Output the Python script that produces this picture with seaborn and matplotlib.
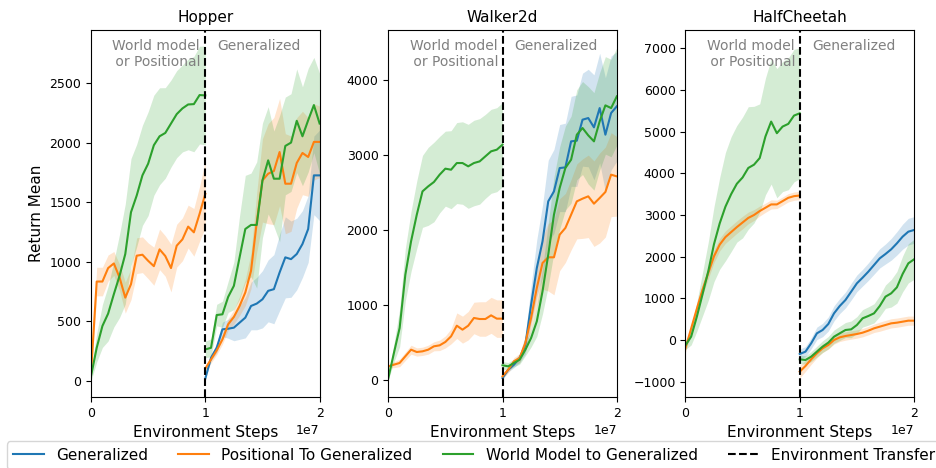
import numpy as np
import pandas as pd
import matplotlib
matplotlib.use("Agg")
import matplotlib.pyplot as plt
from matplotlib.lines import Line2D
import seaborn as sns

# Environment steps (millions) before and after the environment transfer
STEPS_PRE = [0.0, 0.5, 1.0, 1.5, 2.0, 2.5, 3.0, 3.5, 4.0, 4.5, 5.0,
             5.5, 6.0, 6.5, 7.0, 7.5, 8.0, 8.5, 9.0, 9.5, 10.0]
STEPS_POST = [10.0, 10.5, 11.0, 11.5, 12.0, 12.5, 13.0, 13.5, 14.0, 14.5, 15.0,
              15.5, 16.0, 16.5, 17.0, 17.5, 18.0, 18.5, 19.0, 19.5, 20.0]

ENVS = ["Hopper", "Walker2d", "HalfCheetah"]
RUNS = ["Generalized", "Positional To Generalized", "World Model to Generalized"]
COLORS = ["#1f77b4", "#ff7f0e", "#2ca02c"]
TRANSFER_STEP = 1e7

# ---------------- Hopper ----------------
HOP_POS_PRE = [60, 834, 834, 947, 986, 868, 699, 812, 1051, 1059, 1008,
               963, 1104, 1048, 947, 1135, 1188, 1295, 1247, 1402, 1570]
HOP_POS_PRE_SD = [40, 120, 120, 110, 100, 110, 130, 130, 150, 150, 150,
                  160, 170, 170, 200, 180, 180, 180, 200, 230, 280]
HOP_WM_PRE = [40, 278, 461, 565, 728, 882, 1065, 1416, 1556, 1725, 1823,
              1978, 2053, 2081, 2160, 2239, 2287, 2320, 2323, 2399, 2396]
HOP_WM_PRE_SD = [40, 120, 180, 230, 275, 350, 420, 450, 430, 420, 435,
                 420, 407, 380, 365, 365, 365, 380, 400, 410, 415]
HOP_GEN_POST = [20, 194, 278, 433, 438, 447, 489, 531, 629, 649, 685,
                756, 770, 910, 1037, 1022, 1065, 1149, 1275, 1725, 1725]
HOP_GEN_POST_SD = [10, 25, 40, 60, 80, 110, 140, 170, 200, 220, 240,
                   260, 290, 320, 340, 320, 300, 280, 280, 330, 380]
HOP_POS_POST = [104, 180, 256, 348, 475, 537, 629, 742, 924, 1331, 1683,
                1739, 1761, 1921, 1655, 1655, 1829, 1913, 1879, 2006, 2006]
HOP_POS_POST_SD = [25, 30, 35, 40, 50, 60, 80, 110, 150, 250, 350,
                   420, 450, 450, 420, 400, 380, 350, 330, 320, 300]
HOP_WM_POST = [264, 278, 553, 559, 705, 798, 1037, 1275, 1309, 1309, 1683,
               1851, 1697, 1697, 1972, 2000, 2183, 2053, 2188, 2315, 2160]
HOP_WM_POST_SD = [70, 75, 90, 110, 130, 200, 350, 450, 435, 530, 480,
                  450, 400, 530, 410, 410, 435, 415, 435, 400, 420]

# ---------------- Walker2d ----------------
WAL_POS_PRE = [182, 204, 227, 316, 404, 373, 382, 404, 449, 462, 507,
               582, 724, 671, 724, 827, 813, 813, 862, 818, 818]
WAL_POS_PRE_SD = [20, 40, 50, 55, 60, 55, 55, 60, 60, 70, 80,
                  100, 170, 180, 190, 210, 230, 230, 240, 250, 250]
WAL_WM_PRE = [18, 360, 693, 1404, 1849, 2204, 2515, 2582, 2640, 2738, 2818,
              2804, 2893, 2893, 2849, 2893, 2915, 2982, 3049, 3071, 3138]
WAL_WM_PRE_SD = [20, 120, 250, 350, 400, 450, 480, 520, 530, 510, 500,
                 520, 540, 550, 560, 570, 570, 560, 560, 560, 560]
WAL_GEN_POST = [27, 138, 204, 293, 471, 1004, 1493, 1849, 2382, 2515, 2826,
                2835, 3182, 3191, 3471, 3493, 3369, 3626, 3271, 3560, 3649]
WAL_GEN_POST_SD = [20, 30, 40, 60, 120, 250, 380, 480, 550, 560, 580,
                   590, 600, 610, 620, 650, 700, 730, 760, 760, 730]
WAL_POS_POST = [49, 138, 249, 293, 493, 827, 1227, 1560, 1636, 1636, 1938,
                2027, 2204, 2382, 2418, 2449, 2351, 2427, 2507, 2738, 2715]
WAL_POS_POST_SD = [30, 40, 50, 60, 80, 150, 250, 350, 450, 500, 480,
                   460, 470, 500, 530, 550, 570, 600, 600, 560, 530]
WAL_WM_POST = [196, 182, 227, 271, 404, 560, 782, 1182, 1671, 2204, 2560,
               2827, 2938, 3271, 3360, 3262, 3182, 3449, 3662, 3626, 3782]
WAL_WM_POST_SD = [50, 50, 50, 60, 80, 120, 200, 300, 420, 500, 550,
                  560, 580, 600, 620, 650, 650, 650, 650, 650, 650]

# ---------------- HalfCheetah ----------------
CHE_POS_PRE = [-200, 275, 750, 1210, 1610, 2010, 2290, 2470, 2590, 2710, 2820,
               2930, 3000, 3095, 3174, 3254, 3254, 3333, 3413, 3452, 3468]
CHE_POS_PRE_SD = [100, 100, 120, 130, 140, 150, 150, 150, 150, 150, 150,
                  140, 130, 120, 110, 110, 100, 100, 100, 100, 100]
CHE_WM_PRE = [-130, 80, 560, 1100, 1650, 2300, 2800, 3200, 3500, 3750, 3900,
              4129, 4208, 4367, 4884, 5242, 4963, 5122, 5187, 5386, 5441]
CHE_WM_PRE_SD = [100, 200, 350, 520, 700, 900, 1100, 1300, 1380, 1400, 1450,
                 1470, 1400, 1300, 1400, 1500, 1550, 1560, 1580, 1590, 1570]
CHE_GEN_POST = [-336, -280, -80, 160, 240, 384, 640, 816, 960, 1160, 1360,
                1496, 1640, 1800, 1960, 2064, 2176, 2320, 2480, 2600, 2640]
CHE_GEN_POST_SD = [120, 120, 130, 150, 160, 170, 180, 180, 190, 200, 200,
                   200, 210, 220, 230, 240, 260, 280, 300, 320, 320]
CHE_POS_POST = [-760, -624, -464, -320, -200, -120, 0, 64, 96, 120, 144,
                176, 224, 280, 320, 360, 400, 416, 440, 464, 464]
CHE_POS_POST_SD = [150, 130, 120, 110, 100, 100, 100, 100, 100, 100, 100,
                   100, 100, 100, 110, 110, 110, 110, 110, 110, 110]
CHE_WM_POST = [-464, -480, -400, -280, -160, -64, 80, 160, 240, 256, 360,
               520, 576, 640, 816, 1040, 1120, 1264, 1584, 1840, 1936]
CHE_WM_POST_SD = [100, 100, 120, 130, 140, 150, 160, 170, 180, 200, 200,
                  210, 220, 230, 250, 280, 330, 380, 430, 470, 480]

# (environment, run, phase) -> (mean, spread)
CURVES = {
    ("Hopper", RUNS[1], "pre"): (HOP_POS_PRE, HOP_POS_PRE_SD),
    ("Hopper", RUNS[2], "pre"): (HOP_WM_PRE, HOP_WM_PRE_SD),
    ("Hopper", RUNS[0], "post"): (HOP_GEN_POST, HOP_GEN_POST_SD),
    ("Hopper", RUNS[1], "post"): (HOP_POS_POST, HOP_POS_POST_SD),
    ("Hopper", RUNS[2], "post"): (HOP_WM_POST, HOP_WM_POST_SD),
    ("Walker2d", RUNS[1], "pre"): (WAL_POS_PRE, WAL_POS_PRE_SD),
    ("Walker2d", RUNS[2], "pre"): (WAL_WM_PRE, WAL_WM_PRE_SD),
    ("Walker2d", RUNS[0], "post"): (WAL_GEN_POST, WAL_GEN_POST_SD),
    ("Walker2d", RUNS[1], "post"): (WAL_POS_POST, WAL_POS_POST_SD),
    ("Walker2d", RUNS[2], "post"): (WAL_WM_POST, WAL_WM_POST_SD),
    ("HalfCheetah", RUNS[1], "pre"): (CHE_POS_PRE, CHE_POS_PRE_SD),
    ("HalfCheetah", RUNS[2], "pre"): (CHE_WM_PRE, CHE_WM_PRE_SD),
    ("HalfCheetah", RUNS[0], "post"): (CHE_GEN_POST, CHE_GEN_POST_SD),
    ("HalfCheetah", RUNS[1], "post"): (CHE_POS_POST, CHE_POS_POST_SD),
    ("HalfCheetah", RUNS[2], "post"): (CHE_WM_POST, CHE_WM_POST_SD),
}

YLIMS = {"Hopper": (-135, 2945), "Walker2d": (-227, 4667), "HalfCheetah": (-1368, 7440)}

rows = []
for (env, run, phase), (mean, sd) in CURVES.items():
    steps = STEPS_PRE if phase == "pre" else STEPS_POST
    for s, m, d in zip(steps, mean, sd):
        rows.append({"env": env, "run": run, "phase": phase,
                     "step": s * 1e6, "ret": m, "lo": m - d, "hi": m + d})
df = pd.DataFrame(rows)

palette = dict(zip(RUNS, COLORS))

fig = plt.figure(figsize=(9.37, 4.68), dpi=100)
axes = fig.subplots(1, 3)
fig.subplots_adjust(left=0.0971, right=0.9755, top=0.9359, bottom=0.1517, wspace=0.30)

for ax, env in zip(axes, ENVS):
    sub = df[df["env"] == env]
    # shaded spread around each curve
    for run in RUNS:
        for phase in ["pre", "post"]:
            seg = sub[(sub["run"] == run) & (sub["phase"] == phase)]
            if len(seg):
                ax.fill_between(seg["step"], seg["lo"], seg["hi"],
                                color=palette[run], alpha=0.2, linewidth=0)
    sns.lineplot(data=sub, x="step", y="ret", hue="run", units="phase",
                 estimator=None, hue_order=RUNS, palette=palette,
                 linewidth=1.5, legend=False, ax=ax)
    ax.axvline(TRANSFER_STEP, color="black", linestyle="--", linewidth=1.5)

    ax.set_xlim(0, 2e7)
    ax.set_xticks([0, 1e7, 2e7])
    ax.set_ylim(*YLIMS[env])
    ax.set_title(env, fontsize=11)
    ax.set_xlabel("Environment Steps", fontsize=11)
    ax.set_ylabel("")
    ax.tick_params(labelsize=9)
    ax.xaxis.get_offset_text().set_fontsize(9)

    ax.text(0.285, 0.975, "World model\n or Positional", transform=ax.transAxes,
            ha="center", va="top", multialignment="center",
            color="gray", fontsize=10)
    ax.text(0.735, 0.975, "Generalized", transform=ax.transAxes,
            ha="center", va="top", color="gray", fontsize=10)

axes[0].set_ylabel("Return Mean", fontsize=11)

handles = [Line2D([], [], color=c, linewidth=1.5) for c in COLORS]
handles.append(Line2D([], [], color="black", linestyle="--", linewidth=1.5))
labels = RUNS + ["Environment Transfer"]
fig.legend(handles, labels, loc="upper center", bbox_to_anchor=(0.506, 0.073),
           ncol=4, fontsize=11)

fig.savefig("out.png", dpi=100)
